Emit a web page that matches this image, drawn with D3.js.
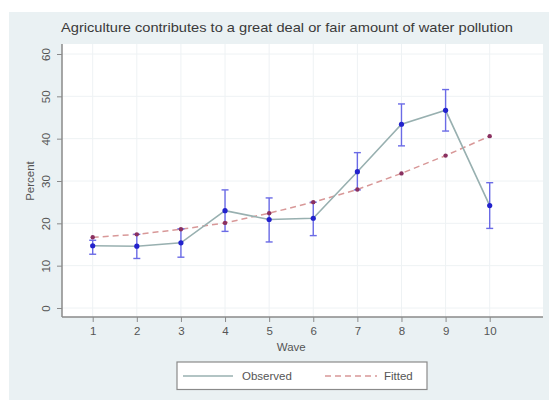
<!DOCTYPE html>
<html>
<head>
<meta charset="utf-8">
<script src="https://cdn.jsdelivr.net/npm/d3@7"></script>
<style>
  html, body { margin: 0; padding: 0; background: #ffffff; }
  svg { display: block; font-family: Arial, "Liberation Sans", sans-serif; }
</style>
</head>
<body>
<svg id="chart" width="549" height="403"></svg>
<script>
// Survey waves and estimates (percent)
const waves = [1, 2, 3, 4, 5, 6, 7, 8, 9, 10];
const observed = [14.7, 14.6, 15.4, 23.0, 20.9, 21.2, 32.2, 43.4, 46.7, 24.2];
const lower    = [12.7, 11.7, 12.0, 18.1, 15.6, 17.1, 27.9, 38.3, 41.8, 18.8];
const upper    = [16.0, 17.4, 18.7, 27.9, 26.0, 25.0, 36.7, 48.2, 51.6, 29.6];
const fitted   = [16.7, 17.4, 18.6, 20.1, 22.4, 25.0, 28.0, 31.8, 36.0, 40.6];
const yTicks = [0, 10, 20, 30, 40, 50, 60];
const titleText = "Agriculture contributes to a great deal or fair amount of water pollution";
const xTitle = "Wave";
const yTitle = "Percent";
const legendLabels = ["Observed", "Fitted"];

const svg = d3.select("#chart");

// graph background
svg.append("rect").attr("x", 9).attr("y", 12).attr("width", 540).attr("height", 388)
  .attr("fill", "#eaf1f3");

const plot = { left: 62, right: 543, top: 44, bottom: 317 };

svg.append("rect")
  .attr("x", plot.left).attr("y", plot.top)
  .attr("width", plot.right - plot.left).attr("height", plot.bottom - plot.top)
  .attr("fill", "#ffffff");

const x = d3.scaleLinear().domain([1, 10]).range([92.7, 489.7]);
const y = d3.scaleLinear().domain([0, 60]).range([308, 54]);

// grid lines
const grid = svg.append("g").attr("stroke", "#eef2f4").attr("stroke-width", 1);
grid.selectAll("line.v").data(waves).join("line")
  .attr("x1", d => x(d)).attr("x2", d => x(d))
  .attr("y1", plot.top).attr("y2", plot.bottom);
grid.selectAll("line.h").data(yTicks).join("line")
  .attr("x1", plot.left).attr("x2", plot.right)
  .attr("y1", d => y(d)).attr("y2", d => y(d));

// axes
const axisColor = "#8a8a8a";
const labelColor = "#555555";

const yAxis = svg.append("g").attr("transform", `translate(${plot.left},0)`)
  .call(d3.axisLeft(y).tickValues(yTicks).tickSize(5));
yAxis.select(".domain").attr("d", `M0,${plot.top}V${plot.bottom}`);
// vertical tick labels, reading bottom to top
yAxis.selectAll(".tick text")
  .attr("x", -16).attr("y", 0).attr("dy", "0.35em")
  .attr("transform", "rotate(-90,-16,0)")
  .attr("text-anchor", "middle");

const xAxis = svg.append("g").attr("transform", `translate(0,${plot.bottom})`)
  .call(d3.axisBottom(x).tickValues(waves).tickSize(5).tickPadding(5).tickFormat(d3.format("d")));
xAxis.select(".domain").attr("d", `M${plot.left},0H${plot.right}`);

[yAxis, xAxis].forEach(a => {
  a.select(".domain").attr("stroke", axisColor).attr("stroke-width", 1.5);
  a.selectAll(".tick line").attr("stroke", axisColor);
  a.selectAll("text").attr("fill", labelColor).attr("font-size", 11.5)
    .attr("font-family", "Arial, 'Liberation Sans', sans-serif");
});

// axis titles
svg.append("text").attr("x", x(5.5)).attr("y", 351).attr("text-anchor", "middle")
  .attr("font-size", 11.5).attr("fill", labelColor).text(xTitle);
svg.append("text").attr("transform", `translate(34,${y(30)}) rotate(-90)`)
  .attr("text-anchor", "middle").attr("font-size", 11.5).attr("fill", labelColor).text(yTitle);

// title
svg.append("text").attr("x", 287).attr("y", 32).attr("text-anchor", "middle")
  .attr("font-size", 13).attr("fill", "#3a3a3a").attr("textLength", 452)
  .attr("lengthAdjust", "spacingAndGlyphs").text(titleText);

const obsColor = "#98b0b0";
const fitColor = "#d89898";
const barColor = "#6b6be6";

// fitted dashed line
const fitLine = d3.line().x((d, i) => x(waves[i])).y(d => y(d));
svg.append("path").datum(fitted).attr("d", fitLine)
  .attr("fill", "none").attr("stroke", fitColor).attr("stroke-width", 1.5)
  .attr("stroke-dasharray", "6,4");

// observed line
svg.append("path").datum(observed).attr("d", fitLine)
  .attr("fill", "none").attr("stroke", obsColor).attr("stroke-width", 1.6);

// error bars
const bars = svg.append("g").attr("stroke", barColor).attr("stroke-width", 1.4);
waves.forEach((w, i) => {
  const cx = x(w);
  bars.append("line").attr("x1", cx).attr("x2", cx).attr("y1", y(lower[i])).attr("y2", y(upper[i]));
  bars.append("line").attr("x1", cx - 3.5).attr("x2", cx + 3.5).attr("y1", y(lower[i])).attr("y2", y(lower[i]));
  bars.append("line").attr("x1", cx - 3.5).attr("x2", cx + 3.5).attr("y1", y(upper[i])).attr("y2", y(upper[i]));
});

// fitted markers
svg.append("g").selectAll("circle").data(fitted).join("circle")
  .attr("cx", (d, i) => x(waves[i])).attr("cy", d => y(d)).attr("r", 2.2)
  .attr("fill", "#8a3060");

// observed markers
svg.append("g").selectAll("circle").data(observed).join("circle")
  .attr("cx", (d, i) => x(waves[i])).attr("cy", d => y(d)).attr("r", 2.6)
  .attr("fill", "#2222cc");

// legend
const lg = svg.append("g");
lg.append("rect").attr("x", 177).attr("y", 362).attr("width", 250).attr("height", 27.5)
  .attr("fill", "#ffffff").attr("stroke", "#8a8a8a").attr("stroke-width", 1.2);
lg.append("line").attr("x1", 183).attr("x2", 233).attr("y1", 376).attr("y2", 376)
  .attr("stroke", obsColor).attr("stroke-width", 1.6);
lg.append("text").attr("x", 242).attr("y", 380).attr("font-size", 11.5).attr("fill", labelColor)
  .text(legendLabels[0]);
lg.append("line").attr("x1", 325).attr("x2", 377).attr("y1", 376).attr("y2", 376)
  .attr("stroke", fitColor).attr("stroke-width", 1.5).attr("stroke-dasharray", "6,4");
lg.append("text").attr("x", 384).attr("y", 380).attr("font-size", 11.5).attr("fill", labelColor)
  .text(legendLabels[1]);
</script>
</body>
</html>
